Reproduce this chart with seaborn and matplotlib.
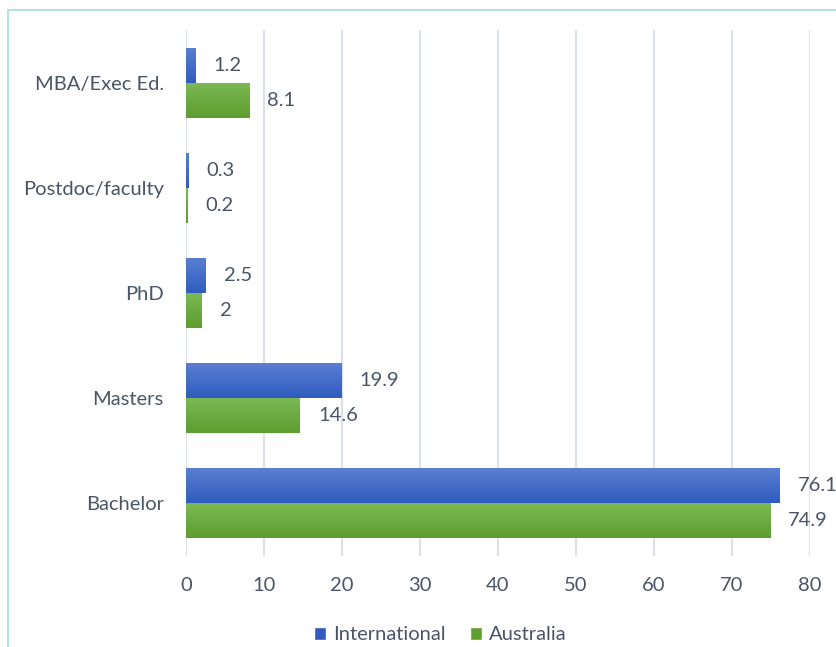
import numpy as np
import pandas as pd
import matplotlib
matplotlib.use("Agg")
import matplotlib.pyplot as plt
from matplotlib.colors import LinearSegmentedColormap
from matplotlib.patches import Patch, Rectangle
import seaborn as sns

categories = ["MBA/Exec Ed.", "Postdoc/faculty", "PhD", "Masters", "Bachelor"]
international = [1.2, 0.3, 2.5, 19.9, 76.1]
australia = [8.1, 0.2, 2.0, 14.6, 74.9]
series = ["International", "Australia"]
xticks = [0, 10, 20, 30, 40, 50, 60, 70, 80]

df = pd.DataFrame({
    "category": categories * 2,
    "value": international + australia,
    "series": ["International"] * len(categories) + ["Australia"] * len(categories),
})

sns.set_theme(style="white")
plt.rcParams["font.family"] = ["Lato", "DejaVu Sans"]

text_color = "#4a5568"
grid_color = "#dde1e8"
blue_top, blue_bot = "#5b80d2", "#2f5cbe"
green_top, green_bot = "#7db955", "#5e9d2f"
fs = 14.5

fig = plt.figure(figsize=(8.37, 6.47), dpi=100)
ax = fig.add_axes([186 / 837, 1 - 556 / 647, (810 - 186) / 837, (556 - 30) / 647])

sns.barplot(data=df, y="category", x="value", hue="series", order=categories,
            hue_order=series, orient="h", width=0.667,
            palette=[blue_bot, green_bot], ax=ax, legend=False, saturation=1)

# vertical gradient fill on each bar
grads = {
    0: LinearSegmentedColormap.from_list("b", [blue_top, blue_bot]),
    1: LinearSegmentedColormap.from_list("g", [green_top, green_bot]),
}
grad_img = np.linspace(0, 1, 64).reshape(-1, 1)
for i, cont in enumerate(ax.containers):
    for bar in cont:
        x0, y0 = bar.get_x(), bar.get_y()
        w, h = bar.get_width(), bar.get_height()
        bar.set_facecolor("none")
        bar.set_edgecolor("none")
        im = ax.imshow(grad_img, cmap=grads[i], aspect="auto",
                       extent=(x0, x0 + w, y0 + h, y0), origin="upper",
                       interpolation="bicubic", zorder=2)
        im.set_clip_path(bar)
    vals = international if i == 0 else australia
    labels = [f"{v:g}" for v in vals]
    ax.bar_label(cont, labels=labels, padding=13, fontsize=fs, color=text_color)

ax.set_xlim(0, 80)
ax.set_ylim(4.5, -0.5)
ax.set_xticks(xticks)
ax.set_xlabel("")
ax.set_ylabel("")
ax.grid(axis="x", color=grid_color, linewidth=1.6, zorder=0)
ax.set_axisbelow(True)
for s in ax.spines.values():
    s.set_visible(False)
ax.tick_params(axis="both", length=0, labelsize=fs, colors=text_color)
ax.tick_params(axis="y", pad=16)
ax.tick_params(axis="x", pad=15)

handles = [Patch(facecolor=blue_bot, label="International"),
           Patch(facecolor=green_bot, label="Australia")]
leg = fig.legend(handles=handles, loc="center", bbox_to_anchor=(440 / 837, 1 - 635 / 647),
                 ncol=2, frameon=False, fontsize=fs, handlelength=0.6, handleheight=0.6,
                 handletextpad=0.35, columnspacing=1.2)
for t in leg.get_texts():
    t.set_color(text_color)

# outer chart border
fig.patches.append(Rectangle((8 / 837, -0.1), 1.2, 1 - 10 / 647 + 0.1,
                             transform=fig.transFigure, fill=False,
                             edgecolor="#a8dce4", linewidth=1.2))

fig.savefig("out.png", dpi=100)
